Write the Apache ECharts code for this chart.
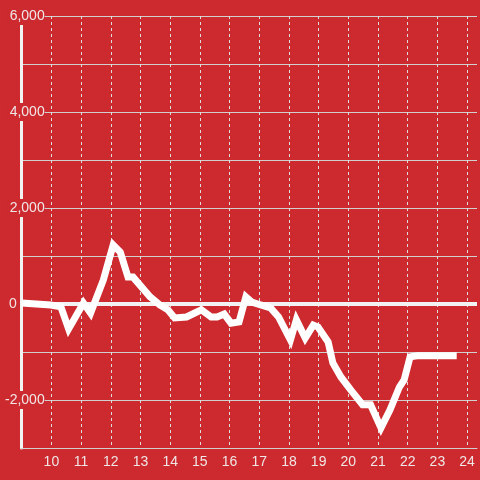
<!DOCTYPE html>
<html>
<head>
<meta charset="utf-8">
<script src="https://cdn.jsdelivr.net/npm/echarts@6/dist/echarts.min.js"></script>
<style>
html,body{margin:0;padding:0;background:#cc2a2f;}
#c{width:480px;height:480px;}
</style>
</head>
<body>
<div id="c"></div>
<script>
var hours = [9.0, 9.98, 10.32, 10.58, 11.08, 11.32, 11.75, 12.08, 12.32, 12.58, 12.75, 13.32, 13.65, 13.92, 14.15, 14.55, 15.05, 15.38, 15.58, 15.82, 16.05, 16.32, 16.55, 16.75, 17.05, 17.38, 17.65, 18.05, 18.25, 18.55, 18.82, 18.98, 19.32, 19.48, 19.75, 20.08, 20.48, 20.75, 21.1, 21.4, 21.72, 21.88, 22.08, 22.32, 23.65];
var values = [20, -20, -60, -520, 20, -190, 500, 1230, 1080, 560, 560, 150, -20, -120, -290, -270, -120, -270, -270, -210, -400, -375, 150, 40, -20, -80, -270, -750, -330, -710, -440, -480, -790, -1230, -1520, -1790, -2100, -2100, -2580, -2210, -1730, -1580, -1100, -1080, -1080];
var xTicks = [10, 11, 12, 13, 14, 15, 16, 17, 18, 19, 20, 21, 22, 23, 24];
var yTicks = [6000, 4000, 2000, 0, -2000];

var bg = '#cc2a2f';
var data = hours.map(function (h, i) { return [h, values[i]]; });
var font = 'Liberation Sans, Arial, sans-serif';

var chart = echarts.init(document.getElementById('c'), null, {renderer: 'canvas'});
chart.setOption({
  backgroundColor: bg,
  animation: false,
  grid: {left: 20, right: 0, top: 16, bottom: 32, containLabel: false},
  xAxis: {
    type: 'value', min: 9, max: 24.3333, interval: 1,
    axisLine: {show: true, onZero: false, lineStyle: {color: '#d0d0d0', width: 1}},
    axisTick: {show: false},
    splitLine: {show: true, showMaxLine: false, lineStyle: {color: '#dddddd', width: 1, type: [3, 3]}},
    axisLabel: {
      color: '#f0e6e6', fontSize: 14, fontFamily: font, margin: 7,
      formatter: function (v) { return xTicks.indexOf(v) >= 0 ? String(v) : ''; }
    }
  },
  yAxis: {
    type: 'value', min: -3000, max: 6000, interval: 1000,
    axisLine: {show: true, lineStyle: {color: '#f2f2f2', width: 3}},
    axisTick: {show: false},
    splitLine: {show: true, lineStyle: {color: '#d0d0d0', width: 1}},
    axisLabel: {
      color: '#f0e6e6', fontSize: 14, fontFamily: font, margin: -23,
      formatter: function (v) {
        if (yTicks.indexOf(v) < 0) return '';
        if (v === 0) return '{z|0}';
        return '{a|' + v.toLocaleString('en-US') + '}';
      },
      rich: {
        a: {backgroundColor: bg, padding: [2, 0, 2, 2], color: '#f0e6e6', fontSize: 14, fontFamily: font},
        z: {padding: [0, 28, 0, 0], color: '#f0e6e6', fontSize: 14, fontFamily: font}
      }
    }
  },
  series: [{
    type: 'line',
    data: data,
    showSymbol: false,
    symbol: 'none',
    z: 5,
    lineStyle: {color: '#ffffff', width: 7, join: 'miter'},
    markLine: {
      silent: true,
      symbol: 'none',
      label: {show: false},
      lineStyle: {color: '#f2f2f2', width: 4, type: 'solid'},
      data: [{yAxis: 0}]
    }
  }]
});
</script>
</body>
</html>
